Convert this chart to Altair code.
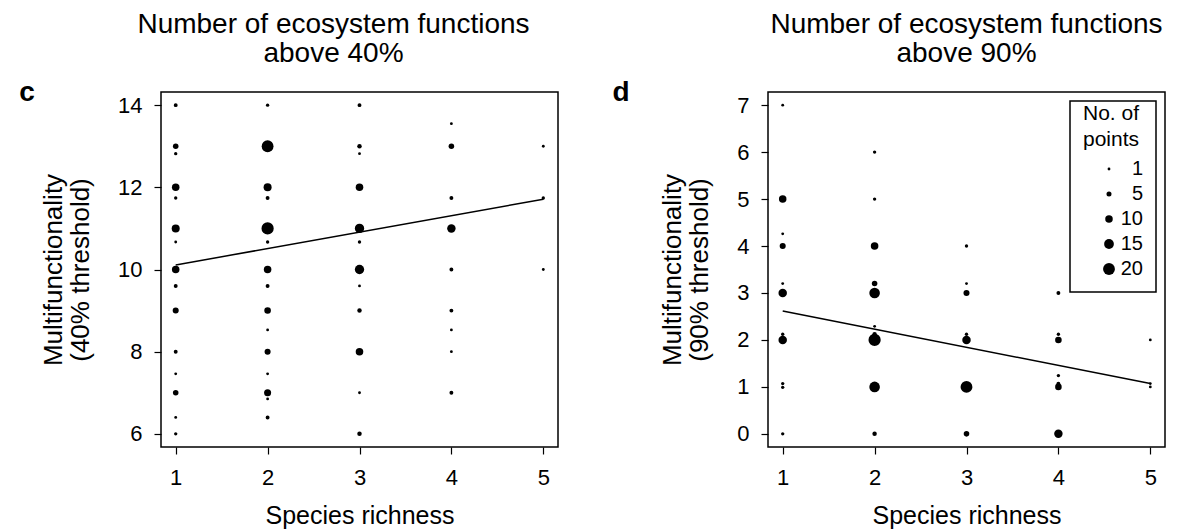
import altair as alt
import pandas as pd

FONT = "Liberation Sans"

# ---- Panel c: 40% threshold ----
c_richness = [1, 1, 1, 1, 1, 1, 1, 1, 1, 1, 1, 1, 1, 1, 1,
              2, 2, 2, 2, 2, 2, 2, 2, 2, 2, 2, 2, 2, 2, 2,
              3, 3, 3, 3, 3, 3, 3, 3, 3, 3, 3, 3,
              4, 4, 4, 4, 4, 4, 4, 4, 4,
              5, 5, 5]
c_multi = [14, 13, 12.82, 12, 11.74, 11, 10.67, 10, 9.6, 9, 8, 7.46, 7, 6.4, 6,
           14, 13, 12, 11.74, 11, 10.67, 10, 9.6, 9, 8.53, 8, 7.46, 7, 6.85, 6.4,
           14, 13, 12.82, 12, 11, 10.67, 10, 9.6, 9, 8, 7, 6,
           13.55, 13, 11.74, 11, 10, 9, 8.53, 8, 7,
           13, 11.74, 10]
c_count = [3, 6, 2, 10, 2, 11, 1, 10, 3, 7, 3, 1, 6, 1, 2,
           2, 20, 11, 3, 21, 2, 10, 3, 8, 1, 7, 1, 9, 1, 3,
           3, 4, 1, 10, 14, 2, 14, 1, 4, 10, 1, 4,
           1, 6, 3, 12, 3, 3, 1, 1, 3,
           1, 2, 1]
c_fit_x = [1, 5]
c_fit_y = [10.11, 11.71]

# ---- Panel d: 90% threshold ----
d_richness = [1, 1, 1, 1, 1, 1, 1, 1, 1, 1, 1,
              2, 2, 2, 2, 2, 2, 2, 2, 2, 2,
              3, 3, 3, 3, 3, 3, 3,
              4, 4, 4, 4, 4, 4, 4,
              5, 5, 5]
d_multi = [7, 5, 4.26, 4, 3.2, 3, 2.12, 2, 1.07, 0.99, 0,
           6, 5, 4, 3.2, 3, 2.29, 2.12, 2, 1, 0,
           4, 3.2, 3, 2.12, 2, 1, 0,
           3, 2.12, 2, 1.24, 1.07, 1, 0,
           2, 1.07, 1]
d_count = [1, 10, 1, 7, 1, 12, 2, 12, 2, 2, 2,
           2, 2, 10, 6, 17, 1, 4, 21, 17, 4,
           2, 1, 7, 2, 12, 20, 6,
           3, 2, 8, 2, 3, 8, 12,
           1, 1, 1]
d_fit_x = [1, 5]
d_fit_y = [2.615, 1.07]

x_ticks = [1, 2, 3, 4, 5]
c_yticks = [6, 8, 10, 12, 14]
d_yticks = [0, 1, 2, 3, 4, 5, 6, 7]
legend_values = [1, 5, 10, 15, 20]


def panel(rich, multi, count, fx, fy, ydom, yticks, ytitle, title_lines,
          title_dx, letter, letter_dx, legend):
    pts_df = pd.DataFrame({"richness": rich, "multi": multi, "n": count})
    fit_df = pd.DataFrame({"richness": fx, "multi": fy})
    xenc = alt.X("richness:Q",
                 scale=alt.Scale(domain=[0.84, 5.16], nice=False, zero=False),
                 axis=alt.Axis(values=x_ticks, format="d", title="Species richness"))
    yenc = alt.Y("multi:Q",
                 scale=alt.Scale(domain=ydom, nice=False, zero=False),
                 axis=alt.Axis(values=yticks, format="d", title=ytitle))
    size = alt.Size("n:Q",
                    scale=alt.Scale(type="pow", exponent=1.4, domain=[1, 20],
                                    range=[8, 140]),
                    legend=legend)
    pts = alt.Chart(pts_df).mark_circle(color="black", opacity=1).encode(
        x=xenc, y=yenc, size=size)
    line = alt.Chart(fit_df).mark_line(color="black", strokeWidth=1.5).encode(
        x=xenc, y=yenc)
    lab = alt.Chart(pd.DataFrame({"t": [letter]})).mark_text(
        font=FONT, fontSize=28, fontWeight="bold", align="center",
        baseline="alphabetic", color="black").encode(
        text="t:N", x=alt.value(letter_dx), y=alt.value(9))
    return alt.layer(pts, line, lab).properties(
        width=397, height=355,
        title=alt.TitleParams(title_lines, font=FONT, fontSize=28,
                              fontWeight="normal", color="black",
                              anchor="middle", frame="group", dx=title_dx,
                              lineHeight=29, offset=11))


left = panel(c_richness, c_multi, c_count, c_fit_x, c_fit_y, [5.68, 14.32],
             c_yticks, ["Multifunctionality", "(40% threshold)"],
             ["Number of ecosystem functions", "above 40%"], -26,
             "c", -134, None)

leg = alt.Legend(title=["No. of", "points"], orient="top-right", offset=9,
                 values=legend_values, strokeColor="black", padding=13,
                 titleFont=FONT, titleFontSize=21, titleFontWeight="normal",
                 titleColor="black", titleLineHeight=26, titlePadding=-2,
                 titleBaseline="middle",
                 labelFont=FONT, labelFontSize=20, labelColor="black",
                 labelAlign="right", labelOffset=24, symbolOffset=16,
                 rowPadding=5, symbolType="circle", symbolFillColor="black",
                 symbolStrokeWidth=0)

right = panel(d_richness, d_multi, d_count, d_fit_x, d_fit_y, [-0.28, 7.28],
              d_yticks, ["Multifunctionality", "(90% threshold)"],
              ["Number of ecosystem functions", "above 90%"], 0,
              "d", -147, leg)

chart = alt.hconcat(left, right, spacing=52).resolve_scale(
    x="independent", y="independent", size="independent"
).resolve_legend(size="independent").properties(
    padding={"left": 10, "top": 2, "right": 0, "bottom": 0}
).configure_view(
    stroke="black", strokeWidth=1.5
).configure_axis(
    labelFont=FONT, labelFontSize=22, labelColor="black",
    titleFont=FONT, titleFontWeight="normal", titleColor="black",
    tickColor="black", tickSize=7, tickWidth=1.2, domain=False, grid=False
).configure_axisX(
    labelPadding=13, titlePadding=15, titleFontSize=25
).configure_axisY(
    labelPadding=12, titlePadding=24, titleFontSize=26, titleLineHeight=27
).configure_legend(
    strokeWidth=1.5
)

chart.save("out.html", embed_options={"renderer": "svg", "actions": False})
